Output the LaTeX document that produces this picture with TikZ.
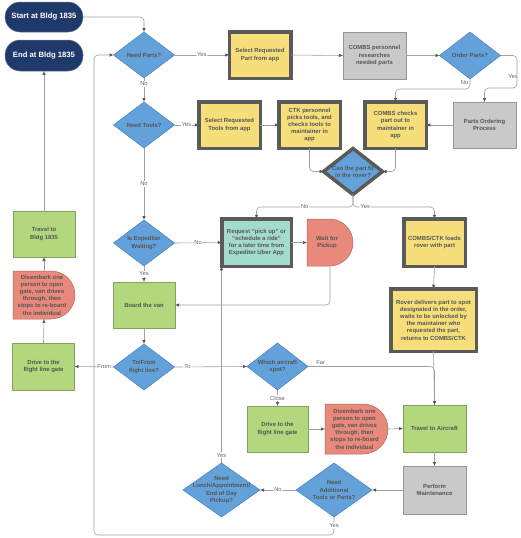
\documentclass[tikz,border=0pt]{standalone}
\usepackage{fontspec}
\setmainfont{Liberation Sans}
\setsansfont{Liberation Sans}
\usetikzlibrary{shapes.geometric,arrows.meta,calc}
\definecolor{navy}{HTML}{1F3A6A}
\definecolor{diablue}{HTML}{63A1DA}
\definecolor{diaedge}{HTML}{4A80B8}
\definecolor{yel}{HTML}{F6DF7B}
\definecolor{grn}{HTML}{B3D77C}
\definecolor{gry}{HTML}{C9C9C9}
\definecolor{salmon}{HTML}{E8897B}
\definecolor{teal}{HTML}{A4DCCB}
\definecolor{heavyc}{HTML}{5A5A5A}
\definecolor{txtc}{HTML}{555555}
\definecolor{linec}{HTML}{A0A0A0}
\definecolor{tipc}{HTML}{555555}
\definecolor{lblc}{HTML}{666666}
\newcommand\drawdelay[2]{\draw[delayline] (#1.north west) -- ([xshift=-#2pt]#1.north east) arc[start angle=90,end angle=-90,radius=#2pt] -- (#1.south west) -- cycle;}
\tikzset{
  base/.style={font=\sffamily\bfseries\fontsize{5.9}{7.2}\selectfont, text=txtc, align=center, inner sep=0pt, outer sep=0pt},
  plainbox/.style={base, rectangle, draw=#1!75!black, fill=#1, line width=0.5pt},
  heavybox/.style={base, rectangle, draw=heavyc, fill=#1, line width=3.5pt},
  term/.style={rectangle, rounded corners=15pt, fill=navy, draw=navy!70!white, line width=0.5pt, text=white, font=\sffamily\bfseries\fontsize{7.7}{9}\selectfont, inner sep=0pt, outer sep=0pt, minimum width=78pt},
  dia/.style={diamond, fill=diablue, draw=diaedge, line width=0.5pt, inner sep=0pt, outer sep=0pt},
  delaybox/.style={base, rectangle, draw=none},
  delayline/.style={draw=salmon!75!black, fill=salmon, line width=0.5pt},
  conn/.style={draw=linec, line width=0.6pt, rounded corners=4pt, -{Latex[length=4pt,width=3.4pt,color=tipc]}},
  lbl/.style={font=\sffamily\fontsize{5.8}{7}\selectfont, text=lblc, fill=white, inner sep=0.8pt},
}
\begin{document}
\begin{tikzpicture}[x=1pt,y=1pt]
\useasboundingbox (0,0) rectangle (520,-538);
% terminals
\node[term, minimum height=30pt] (start) at (44,-17) {Start at Bldg 1835};
\node[term, minimum height=31pt] (endn) at (44,-55.5) {End at Bldg 1835};
% top row
\node[dia, minimum width=61pt, minimum height=46pt] (np) at (144,-55) {};
\node[base] (npT) at (np) {Need Parts?};
\node[heavybox=yel, minimum width=61.5pt, minimum height=46.5pt] (selpart) at (260,-55) {Select Requested\\Part from app};
\node[plainbox=gry, minimum width=63pt, minimum height=47pt] (combsres) at (374.5,-55.5) {COMBS personnel\\researches\\needed parts};
\node[dia, minimum width=61pt, minimum height=47pt] (order) at (470,-55.5) {};
\node[base] (orderT) at (order) {Order Parts?};
% second row
\node[dia, minimum width=61pt, minimum height=46pt] (nt) at (144,-125) {};
\node[base] (ntT) at (nt) {Need Tools?};
\node[heavybox=yel, minimum width=61.5pt, minimum height=46.5pt] (seltools) at (229.5,-125) {Select Requested\\Tools from app};
\node[heavybox=yel, minimum width=61.5pt, minimum height=46.5pt] (ctk) at (309.5,-125) {CTK personnel\\picks tools, and\\checks tools to\\maintainer in\\app};
\node[heavybox=yel, minimum width=61.5pt, minimum height=46.5pt] (combschk) at (395.5,-125) {COMBS checks\\part out to\\maintainer in\\app};
\node[plainbox=gry, minimum width=63pt, minimum height=46pt] (porder) at (484.5,-125) {Parts Ordering\\Process};
\node[dia, draw=heavyc, line width=3.5pt, minimum width=59pt, minimum height=46pt] (canfit) at (353,-171.5) {};
\node[base] (canfitT) at (canfit) {Can the part fit\\in the rover?};
% third row
\node[dia, minimum width=61pt, minimum height=46pt] (expw) at (144,-243) {};
\node[base] (expwT) at (expw) {Is Expediter\\Waiting?};
\node[heavybox=teal, minimum width=69.5pt, minimum height=47.5pt] (request) at (256.5,-242.5) {Request “pick up” or\\“schedule a ride”\\for a later time from\\Expediter Uber App};
\node[delaybox, minimum width=46pt, minimum height=47pt] (wait) at (330,-242.5) {};
\drawdelay{wait}{23.5}
\node[base] (waitT) at (327,-242.5) {Wait for\\Pickup};
\node[heavybox=yel, minimum width=61.5pt, minimum height=47.5pt] (loads) at (434.5,-242.5) {COMBS/CTK loads\\rover with part};
\node[heavybox=yel, minimum width=85.5pt, minimum height=62.5pt] (rover) at (433.5,-320) {Rover delivers part to spot\\designated in the order,\\waits to be unlocked by\\the maintainer who\\requested the part,\\returns to COMBS/CTK};
\node[plainbox=grn, minimum width=62pt, minimum height=46pt] (board) at (144,-305) {Board the van};
% left column
\node[plainbox=grn, minimum width=62pt, minimum height=46pt] (travelbldg) at (44,-234) {Travel to\\Bldg 1835};
\node[delaybox, minimum width=62pt, minimum height=48pt] (leftdis) at (44,-295) {};
\drawdelay{leftdis}{24}
\node[base] (leftdisT) at (42,-295) {Disembark one\\person to open\\gate, van drives\\through, then\\stops to re-board\\the individual};
\node[plainbox=grn, minimum width=62pt, minimum height=47pt] (leftdrive) at (43.5,-366.5) {Drive to the\\flight line gate};
% fourth row
\node[dia, minimum width=61pt, minimum height=46pt] (tofrom) at (144,-367) {};
\node[base] (tofromT) at (tofrom) {To/From\\flight line?};
\node[dia, minimum width=61pt, minimum height=47pt] (which) at (277.5,-366.5) {};
\node[base] (whichT) at (which) {Which aircraft\\spot?};
\node[plainbox=grn, minimum width=61pt, minimum height=46pt] (drivemid) at (277.5,-429) {Drive to the\\flight line gate};
\node[delaybox, minimum width=63pt, minimum height=50pt] (dismid) at (356.5,-429) {};
\drawdelay{dismid}{25}
\node[base] (dismidT) at (354.5,-429) {Disembark one\\person to open\\gate, van drives\\through, then\\stops to re-board\\the individual};
\node[plainbox=grn, minimum width=63pt, minimum height=47pt] (travelac) at (434.5,-428.5) {Travel to Aircraft};
\node[plainbox=gry, minimum width=63pt, minimum height=48pt] (perform) at (434.5,-490) {Perform\\Maintenance};
\node[dia, minimum width=76pt, minimum height=54pt] (needadd) at (334,-490) {};
\node[base] (needaddT) at (needadd) {Need\\Additional\\Tools or Parts?};
\node[dia, minimum width=77pt, minimum height=54pt] (needlunch) at (221.5,-490) {};
\node[base] (needlunchT) at (needlunch) {Need\\Lunch/Appointment/\\End of Day\\Pickup?};
% connectors
\draw[conn] (start.east) -| (np.north);
\draw[conn] (np.east) -- node[lbl]{Yes} (selpart.west);
\draw[conn] (selpart.east) -- (combsres.west);
\draw[conn] (combsres.east) -- (order.west);
\draw[conn] (order.east) -- (517,-55.5) -- node[lbl,pos=0.65,xshift=-4pt]{Yes} (517,-88) -- (484.5,-88) -- (porder.north);
\draw[conn] (order.south) -- node[lbl,left=0.5pt,pos=0.4]{No} (470,-89) -- (395.5,-89) -- (combschk.north);
\draw[conn] (porder.west) -- (combschk.east);
\draw[conn] (np.south) -- node[lbl,pos=0.25]{No} (nt.north);
\draw[conn] (nt.east) -- node[lbl]{Yes} (seltools.west);
\draw[conn] (seltools.east) -- (ctk.west);
\draw[conn] (ctk.south) |- (canfit.west);
\draw[conn] (combschk.south) |- (canfit.east);
\draw[conn] (canfit.south) -- (353,-207) -- node[lbl]{No} (256.5,-207) -- (request.north);
\draw[conn] (canfit.south) -- (353,-207) -- node[lbl,pos=0.15]{Yes} (434.5,-207) -- (loads.north);
\draw[conn] (nt.south) -- node[lbl]{No} (expw.north);
\draw[conn] (expw.east) -- node[lbl]{No} (request.west);
\draw[conn] (expw.south) -- node[lbl]{Yes} (board.north);
\draw[conn] (request.east) -- (wait.west);
\draw[conn] (wait.south) |- (board.east);
\draw[conn] (board.south) -- (tofrom.north);
\draw[conn] (tofrom.west) -- node[lbl,pos=0.24]{From} (leftdrive.east);
\draw[conn] (tofrom.east) -- node[lbl,pos=0.18]{To} (which.west);
\draw[conn] (which.east) -- node[lbl,above=0.5pt,pos=0.1,fill=none]{Far} (434.5,-366.5) -- (travelac.north);
\draw[conn] (which.south) -- node[lbl]{Close} (drivemid.north);
\draw[conn] (drivemid.east) -- (dismid.west);
\draw[conn] (dismid.east) -- (travelac.west);
\draw[conn] (loads.south) -- (rover.north);
\draw[conn] (rover.south) -- (travelac.north);
\draw[conn] (travelac.south) -- (perform.north);
\draw[conn] (perform.west) -- (needadd.east);
\draw[conn] (needadd.west) -- node[lbl]{No} (needlunch.east);
\draw[conn] (needlunch.north) -- node[lbl,pos=0.04]{Yes} (needlunch.north |- request.south);
\draw[conn] (needadd.south) -- node[lbl]{Yes} (334,-535) -- (94,-535) -- (94,-55) -- (np.west);
\draw[conn] (leftdrive.north) -- (leftdis.south);
\draw[conn] (leftdis.north) -- (travelbldg.south);
\draw[conn] (travelbldg.north) -- (endn.south);
\end{tikzpicture}
\end{document}
